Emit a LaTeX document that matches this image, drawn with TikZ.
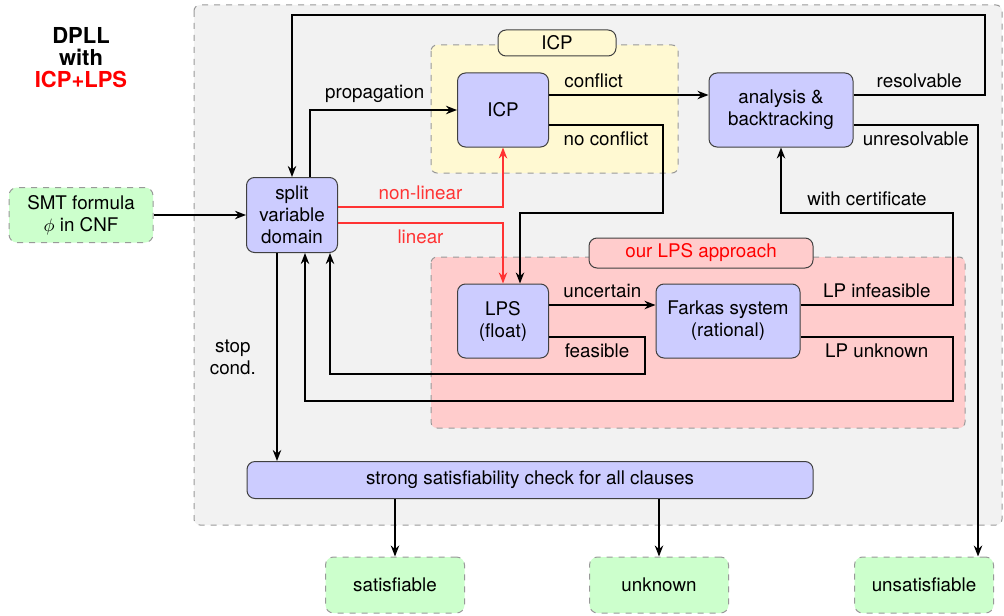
\documentclass[tikz,border=0pt]{standalone}
\usepackage{fontspec}
\setmainfont{TeX Gyre Heros}
\usepackage{xcolor}
\usepackage{tikz}
\usetikzlibrary{positioning,arrows.meta,calc}
\definecolor{procblue}{HTML}{CCCCFF}
\definecolor{termgreen}{HTML}{CCFFCC}
\definecolor{icpyellow}{HTML}{FFF9D2}
\definecolor{lpspink}{HTML}{FFCCCC}
\definecolor{dpllgray}{HTML}{F2F2F2}
\definecolor{linred}{HTML}{FF3333}
\newcommand{\txt}{\fontsize{9.4}{11}\selectfont}
\tikzset{
  proc/.style   = {rectangle, rounded corners=4pt, draw=black!75, fill=procblue, line width=0.5pt,
                   inner sep=2pt, align=center, font=\txt},
  term/.style   = {rectangle, rounded corners=4pt, draw=black!40, dashed, fill=termgreen, line width=0.5pt,
                   inner sep=2pt, align=center, font=\txt},
  zone/.style   = {rounded corners=3pt, draw=black!40, dashed, fill=#1, line width=0.5pt},
  tag/.style    = {rectangle, rounded corners=4pt, draw=black!75, fill=#1, line width=0.5pt,
                   inner sep=2pt, align=center, font=\txt},
  flow/.style   = {-{Stealth[length=5.5pt,width=4.2pt]}, line width=1.15pt},
  lin/.style    = {flow, draw=linred},
  lbl/.style    = {font=\txt, inner sep=3pt},
}

\begin{document}
\begin{tikzpicture}[x=0.5pt, y=-0.5pt]
  \useasboundingbox (0,0) rectangle (1004,615);
  % regions
  \draw[zone=dpllgray] (194,5) rectangle (1002,525);
  \draw[zone=icpyellow] (431,45) rectangle (678,173);
  \draw[zone=lpspink] (431,257) rectangle (965,428);
  \node[tag=icpyellow, minimum width=59pt, minimum height=13pt] (icptag) at (557,43) {ICP};
  \node[tag=lpspink, minimum width=112pt, minimum height=15pt, text=red] (lpstag) at (701,253) {our LPS approach};

  \node[font=\fontsize{11}{11}\selectfont\bfseries, align=center] (title) at (81,58)
    {DPLL\\with\\\textcolor{red}{ICP+LPS}};

  % nodes
  \node[term, minimum width=72pt, minimum height=27.5pt] (smt) at (81,215) {SMT formula\\$\phi$ in CNF};
  \node[proc, minimum width=45.5pt, minimum height=37.5pt] (split) at (292,215) {split\\variable\\domain};
  \node[proc, minimum width=45.5pt, minimum height=37pt] (icp) at (503,110) {ICP};
  \node[proc, minimum width=72pt, minimum height=37pt] (ana) at (781,110) {analysis \&\\backtracking};
  \node[proc, minimum width=45.5pt, minimum height=37pt] (lps) at (503,321) {LPS\\(float)};
  \node[proc, minimum width=72pt, minimum height=37pt] (fark) at (728,321) {Farkas system\\(rational)};
  \node[proc, minimum width=283pt, minimum height=18.5pt] (check) at (530,480) {strong satisfiability check for all clauses};
  \node[term, minimum width=69.5pt, minimum height=28pt] (sat) at (395,585) {satisfiable};
  \node[term, minimum width=69.5pt, minimum height=28pt] (unk) at (659,585) {unknown};
  \node[term, minimum width=69.5pt, minimum height=28pt] (unsat) at (924,585) {unsatisfiable};

  % connectors
  \draw[flow] (smt) -- (split);
  \draw[flow] (split.north -| 310,0) |- node[lbl, above, pos=0.72] {propagation} (icp.west);
  \draw[flow] (icp.east |- 0,95) -- node[lbl, above, pos=0.28] {conflict} (ana.west |- 0,95);
  \draw[flow] (icp.east |- 0,125) -| node[lbl, below, pos=0.25] {no conflict} (663,213)
    -| (lps.north -| 520,0);
  \draw[flow] (ana.east |- 0,95) -| node[lbl, above, pos=0.25] {resolvable} (985,15) -| (split.north);
  \draw[flow] (ana.east |- 0,125) -| node[lbl, below, pos=0.25] {unresolvable} (unsat.north -| 978,0);
  \draw[lin] (split.east |- 0,207) -| node[lbl, above, pos=0.25, text=linred] {non-linear} (icp.south);
  \draw[lin] (split.east |- 0,223) -| node[lbl, below, pos=0.25, text=linred] {linear} (lps.north);
  \draw[flow] (lps.east |- 0,305) -- node[lbl, above] {uncertain} (fark.west |- 0,305);
  \draw[flow] (lps.east |- 0,337) -| node[lbl, below, pos=0.25] {feasible} (645,374)
    -| (split.south -| 330,0);
  \draw[flow] (fark.east |- 0,305) -| node[lbl, above, pos=0.25] {LP infeasible} (953,213)
    -| node[lbl, above, pos=0.25] {with certificate} (ana.south);
  \draw[flow] (fark.east |- 0,337) -| node[lbl, below, pos=0.25] {LP unknown} (953,401)
    -| (split.south -| 305,0);
  \draw[flow] (split.south -| 277,0) -- node[lbl, left, xshift=-7pt, align=center] {stop\\cond.} (check.north -| 277,0);
  \draw[flow] (check.south -| sat.north) -- (sat.north);
  \draw[flow] (check.south -| unk.north) -- (unk.north);
\end{tikzpicture}
\end{document}
